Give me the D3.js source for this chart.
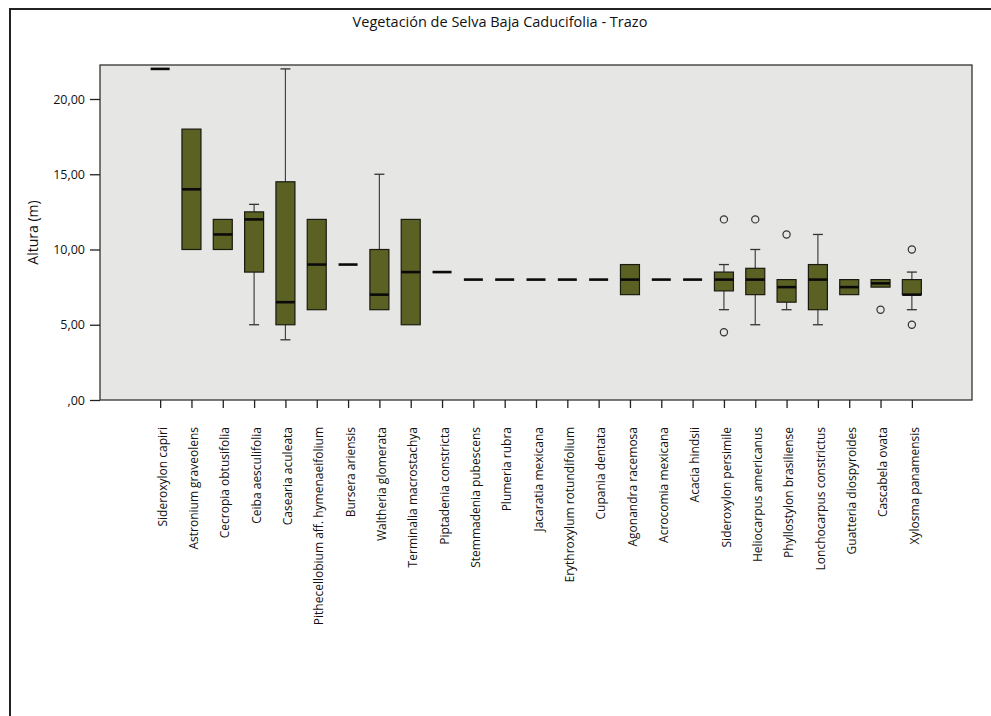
<!DOCTYPE html>
<html><head><meta charset="utf-8">
<script src="https://cdn.jsdelivr.net/npm/d3@7"></script>
<style>body{margin:0;background:#fff;} svg{display:block;}</style>
</head><body>
<script>
const species = ["Sideroxylon capiri","Astronium graveolens","Cecropia obtusifolia","Ceiba aesculifolia","Casearia aculeata","Pithecellobium aff. hymenaeifolium","Bursera ariensis","Waltheria glomerata","Terminalia macrostachya","Piptadenia constricta","Stemmadenia pubescens","Plumeria rubra","Jacaratia mexicana","Erythroxylum rotundifolium","Cupania dentata","Agonandra racemosa","Acrocomia mexicana","Acacia hindsii","Sideroxylon persimile","Heliocarpus americanus","Phyllostylon brasiliense","Lonchocarpus constrictus","Guatteria diospyroides","Cascabela ovata","Xylosma panamensis"];
const whiskerLow = [22,10,10,5,4,6,9,6,5,8.5,8,8,8,8,8,7,8,8,6,5,6,5,7,7.5,6];
const q1         = [22,10,10,8.5,5,6,9,6,5,8.5,8,8,8,8,8,7,8,8,7.25,7,6.5,6,7,7.5,7];
const median     = [22,14,11,12,6.5,9,9,7,8.5,8.5,8,8,8,8,8,8,8,8,8,8,7.5,8,7.5,7.75,7];
const q3         = [22,18,12,12.5,14.5,12,9,10,12,8.5,8,8,8,8,8,9,8,8,8.5,8.75,8,9,8,8,8];
const whiskerHigh= [22,18,12,13,22,12,9,15,12,8.5,8,8,8,8,8,9,8,8,9,10,8,11,8,8,8.5];
const outliers   = [[],[],[],[],[],[],[],[],[],[],[],[],[],[],[],[],[],[],[12,4.5],[12],[11],[],[],[6],[10,5]];
const yTicks = [0,5,10,15,20];

const W=991,H=716;
const svg=d3.select("body").append("svg").attr("width",W).attr("height",H);
svg.append("rect").attr("width",W).attr("height",H).attr("fill","#fff");
// outer frame
svg.append("path").attr("d",`M10,${H+5}V9H${W+5}`).attr("fill","none").attr("stroke","#222").attr("stroke-width",2);

svg.append("text").attr("x",500).attr("y",27).attr("text-anchor","middle")
  .attr("font-family","Open Sans, sans-serif").attr("font-size",14.5).attr("fill","#111")
  .text("Vegetación de Selva Baja Caducifolia - Trazo");

const L=100,R=972,T=65,B=400;
const x=d3.scalePoint().domain(species).range([L,R]).padding(1.92);
const y=d3.scaleLinear().domain([0,(B-T)/15.05]).range([B,T]);

svg.append("rect").attr("x",L).attr("y",T).attr("width",R-L).attr("height",B-T)
  .attr("fill","#e6e6e4").attr("stroke","#333").attr("stroke-width",1.3);

const font="Open Sans, sans-serif";
// y axis
const ya=svg.append("g").attr("transform",`translate(${L},0)`)
  .call(d3.axisLeft(y).tickValues(yTicks).tickSize(10).tickSizeOuter(0)
    .tickFormat(d=> d===0?",00":d3.format(".2f")(d).replace(".",",")));
ya.select(".domain").remove();
ya.selectAll("line").attr("stroke","#222").attr("stroke-width",1.3);
ya.selectAll("text").attr("font-family",font).attr("font-size",12.5).attr("fill","#111").attr("dx","-2");

svg.append("text").attr("transform",`translate(38,${(T+B)/2}) rotate(-90)`)
  .attr("text-anchor","middle").attr("font-family",font).attr("font-size",14).attr("fill","#111")
  .text("Altura (m)");

// x axis
const xa=svg.append("g").attr("transform",`translate(0,${B})`)
  .call(d3.axisBottom(x).tickSize(8).tickSizeOuter(0));
xa.select(".domain").remove();
xa.selectAll("line").attr("stroke","#222").attr("stroke-width",1.3);
xa.selectAll("text").attr("font-family",font).attr("font-size",12).attr("fill","#111")
  .attr("transform","rotate(-90)").attr("text-anchor","end").attr("x",-27).attr("y",2).attr("dy","0.35em");

const bw=19, cw=10;
const g=svg.append("g");
species.forEach((s,i)=>{
  const cx=x(s);
  const gg=g.append("g");
  if(whiskerHigh[i]>q3[i]){
    gg.append("line").attr("x1",cx).attr("x2",cx).attr("y1",y(whiskerHigh[i])).attr("y2",y(q3[i])).attr("stroke","#444").attr("stroke-width",1.2);
    gg.append("line").attr("x1",cx-cw/2).attr("x2",cx+cw/2).attr("y1",y(whiskerHigh[i])).attr("y2",y(whiskerHigh[i])).attr("stroke","#333").attr("stroke-width",1.3);
  }
  if(whiskerLow[i]<q1[i]){
    gg.append("line").attr("x1",cx).attr("x2",cx).attr("y1",y(q1[i])).attr("y2",y(whiskerLow[i])).attr("stroke","#444").attr("stroke-width",1.2);
    gg.append("line").attr("x1",cx-cw/2).attr("x2",cx+cw/2).attr("y1",y(whiskerLow[i])).attr("y2",y(whiskerLow[i])).attr("stroke","#333").attr("stroke-width",1.3);
  }
  if(q3[i]>q1[i]){
    gg.append("rect").attr("x",cx-bw/2).attr("y",y(q3[i])).attr("width",bw).attr("height",y(q1[i])-y(q3[i]))
      .attr("fill","#5a6123").attr("stroke","#1a1a10").attr("stroke-width",1.2);
  }
  gg.append("line").attr("x1",cx-bw/2).attr("x2",cx+bw/2).attr("y1",y(median[i])).attr("y2",y(median[i]))
    .attr("stroke","#0a0a0a").attr("stroke-width",2.6);
  outliers[i].forEach(v=>{
    gg.append("circle").attr("cx",cx).attr("cy",y(v)).attr("r",3.6).attr("fill","none").attr("stroke","#333").attr("stroke-width",1.2);
  });
});
</script>
</body></html>
